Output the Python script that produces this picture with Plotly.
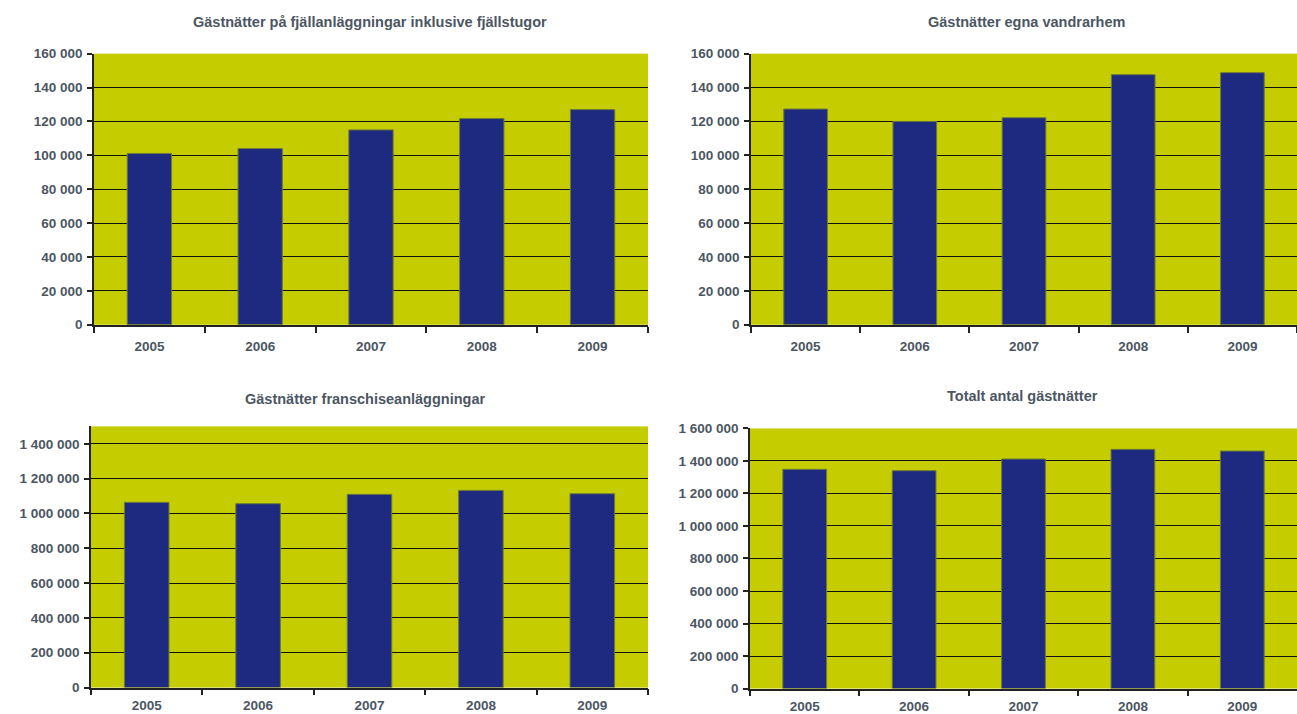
import plotly.graph_objects as go

years = ["2005", "2006", "2007", "2008", "2009"]
fjall = [101100, 104000, 115000, 121700, 127000]
vandrarhem = [127300, 120000, 122200, 147600, 148800]
franchise = [1063800, 1056200, 1109700, 1132600, 1113500]
totalt = [1348300, 1340000, 1411800, 1471100, 1460900]

titles = [
    "Gästnätter på fjällanläggningar inklusive fjällstugor",
    "Gästnätter egna vandrarhem",
    "Gästnätter franschiseanläggningar",
    "Totalt antal gästnätter",
]

W, H = 1297, 714
BAR = "#1E2A80"
BG = "#C5CC00"
TXT = "#4C5663"
FONT = "Liberation Sans"

def py(v):
    # compensate vertical placement observed in the renderer
    return (v - 7.2) / 0.978

def px_x(a, b):
    return [a / W, b / W]

def px_y(top, bottom):
    return [1 - py(bottom) / H, 1 - py(top) / H]

panels = [
    dict(data=fjall, x=px_x(94, 648), y=px_y(54, 326), rng=[0, 160000], dt=20000, tx=370, ty=22, so=8),
    dict(data=vandrarhem, x=px_x(751, 1297), y=px_y(54, 326), rng=[0, 160000], dt=20000, tx=1026, ty=22, so=8),
    dict(data=franchise, x=px_x(91, 648), y=px_y(428, 690), rng=[0, 1500000], dt=200000, tx=365, ty=400, so=4),
    dict(data=totalt, x=px_x(750, 1297), y=px_y(430, 691), rng=[0, 1600000], dt=200000, tx=1022, ty=397, so=4),
]

fig = go.Figure()
layout = dict(
    width=W, height=H, margin=dict(l=0, r=0, t=0, b=0),
    paper_bgcolor="white", plot_bgcolor=BG, showlegend=False, bargap=0.6,
    separators=". ",
    font=dict(family=FONT, color=TXT, size=12),
)
annotations = []
for i, p in enumerate(panels, start=1):
    xa = "x" if i == 1 else f"x{i}"
    ya = "y" if i == 1 else f"y{i}"
    fig.add_trace(go.Bar(x=years, y=p["data"],
                         marker=dict(color=BAR, line=dict(width=1, color="#6E7A3A")),
                         xaxis=xa, yaxis=ya, hoverinfo="x+y"))
    layout[f"xaxis{'' if i == 1 else i}"] = dict(
        domain=p["x"], anchor=ya, type="category",
        showline=True, linecolor="#222222", linewidth=1.5,
        ticks="outside", tickson="boundaries", ticklen=6, tickcolor="#222222", tickwidth=1.5,
        showgrid=False, tickfont=dict(family=FONT, size=13.5, color=TXT),
        ticklabelstandoff=p["so"],
        tickprefix="<b>", ticksuffix="</b>",
    )
    layout[f"yaxis{'' if i == 1 else i}"] = dict(
        domain=p["y"], anchor=xa, range=p["rng"], dtick=p["dt"], tick0=0,
        tickformat=",d", showline=True, linecolor="#222222", linewidth=1.5,
        ticks="outside", ticklen=5, tickcolor="#222222", tickwidth=1.5,
        showgrid=True, gridcolor="#111111", gridwidth=1.2, zeroline=False,
        tickfont=dict(family=FONT, size=13.5, color=TXT),
        ticklabelstandoff=2,
        tickprefix="<b>", ticksuffix="</b>",
    )
    annotations.append(dict(
        text=f"<b>{titles[i-1]}</b>", x=p["tx"] / W, y=1 - py(p["ty"]) / H,
        xref="paper", yref="paper", showarrow=False, xanchor="center", yanchor="middle",
        font=dict(family=FONT, size=14.5, color=TXT),
    ))

layout["annotations"] = annotations
fig.update_layout(**layout)
fig.write_html(
    "out.html",
    config={"displayModeBar": False},
    post_script="document.body.style.margin='0';document.body.style.overflow='hidden';",
)
